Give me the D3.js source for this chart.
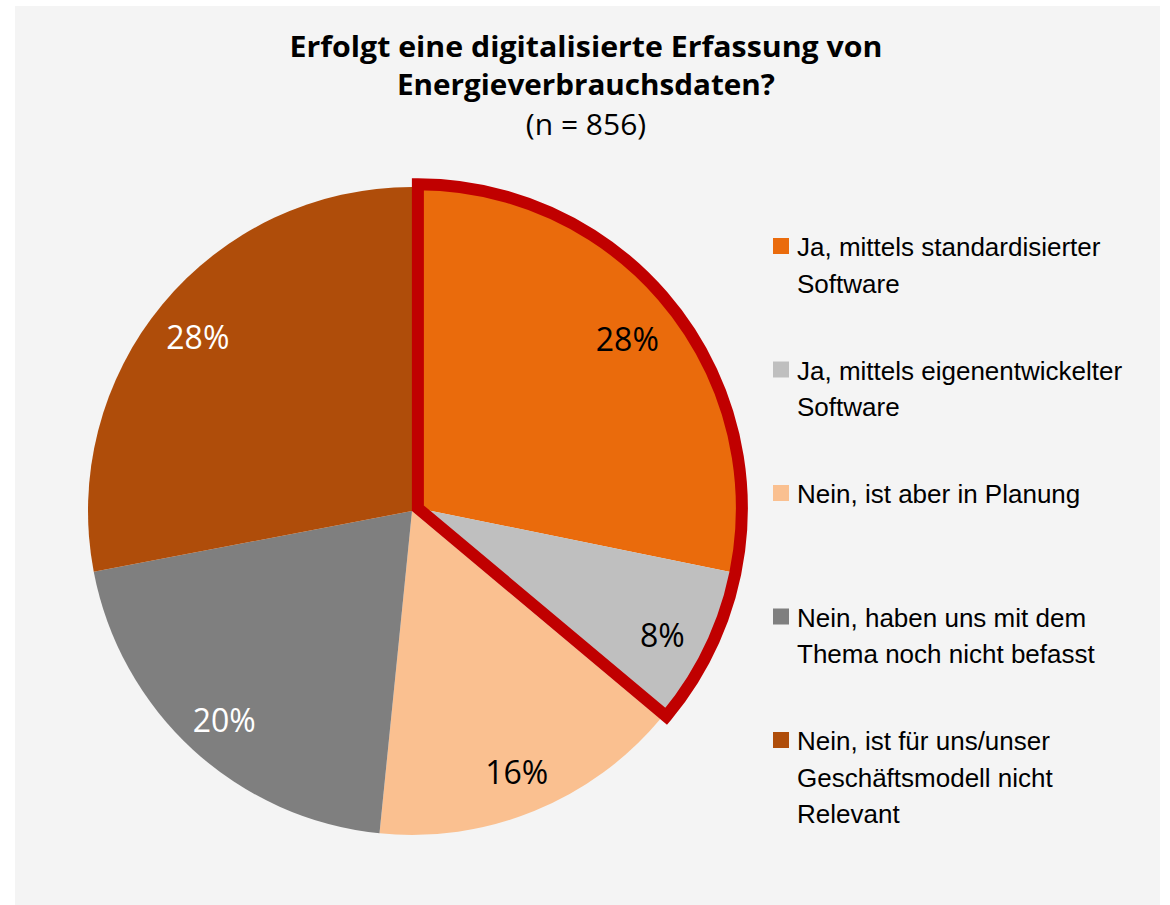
<!DOCTYPE html>
<html>
<head>
<meta charset="utf-8">
<script src="https://cdn.jsdelivr.net/npm/d3@7"></script>
<style>
  html, body { margin: 0; padding: 0; background: #ffffff; }
  svg { display: block; }
</style>
</head>
<body>
<div id="chart"></div>
<script>
// ---- data ----
const titleLines = ["Erfolgt eine digitalisierte Erfassung von", "Energieverbrauchsdaten?"];
const subtitle = "(n = 856)";
const categories = [
  "Ja, mittels standardisierter Software",
  "Ja, mittels eigenentwickelter Software",
  "Nein, ist aber in Planung",
  "Nein, haben uns mit dem Thema noch nicht befasst",
  "Nein, ist für uns/unser Geschäftsmodell nicht Relevant"
];
const legendLines = [
  ["Ja, mittels standardisierter", "Software"],
  ["Ja, mittels eigenentwickelter", "Software"],
  ["Nein, ist aber in Planung"],
  ["Nein, haben uns mit dem", "Thema noch nicht befasst"],
  ["Nein, ist für uns/unser", "Geschäftsmodell nicht", "Relevant"]
];
const values = [28.2, 7.9, 15.5, 20.4, 28.0];
const highlighted = [0, 1];

// ---- styles ----
const colors = ["#EA6B0C", "#BFBFBF", "#FAC090", "#7F7F7F", "#AF4D0A"];
const labelColors = ["#000000", "#000000", "#000000", "#ffffff", "#ffffff"];

const W = 1170, H = 905;
const svg = d3.select("#chart").append("svg").attr("width", W).attr("height", H);

svg.append("rect").attr("x", 15).attr("y", 6).attr("width", 1145).attr("height", 899).attr("fill", "#f4f4f4");

// title
const tFont = "'Open Sans', 'Noto Sans', sans-serif";
svg.append("text").attr("x", 586).attr("y", 57).attr("text-anchor", "middle")
  .attr("font-family", tFont).attr("font-weight", "bold").attr("font-size", 29).attr("fill", "#000")
  .attr("textLength", 593).attr("lengthAdjust", "spacingAndGlyphs")
  .text(titleLines[0]);
svg.append("text").attr("x", 586).attr("y", 95).attr("text-anchor", "middle")
  .attr("font-family", tFont).attr("font-weight", "bold").attr("font-size", 29).attr("fill", "#000")
  .attr("textLength", 378).attr("lengthAdjust", "spacingAndGlyphs")
  .text(titleLines[1]);
svg.append("text").attr("x", 586).attr("y", 135).attr("text-anchor", "middle")
  .attr("font-family", tFont).attr("font-size", 30).attr("fill", "#000")
  .text(subtitle);

// pie
const cx = 412, cy = 511, R = 324, explode = 6.5, labelR = 278, labelShift = 4;
const pie = d3.pie().sort(null).value(d => d);
const arcs = pie(values);
const arcGen = d3.arc().innerRadius(0).outerRadius(R);
const labelArc = d3.arc().innerRadius(labelR).outerRadius(labelR);

const hStart = arcs[highlighted[0]].startAngle;
const hEnd = arcs[highlighted[highlighted.length - 1]].endAngle;
const hMid = (hStart + hEnd) / 2;
const dx = Math.sin(hMid) * explode, dy = -Math.cos(hMid) * explode;

const g = svg.append("g").attr("transform", `translate(${cx},${cy})`);
const offsetOf = i => highlighted.includes(i) ? [dx, dy] : [0, 0];

g.selectAll("path.slice").data(arcs).join("path")
  .attr("class", "slice")
  .attr("d", arcGen)
  .attr("fill", (d, i) => colors[i])
  .attr("transform", (d, i) => `translate(${offsetOf(i)[0]},${offsetOf(i)[1]})`);

g.append("path")
  .attr("d", arcGen({startAngle: hStart, endAngle: hEnd}))
  .attr("transform", `translate(${dx},${dy})`)
  .attr("fill", "none").attr("stroke", "#C00000").attr("stroke-width", 12)
  .attr("stroke-linejoin", "miter");

g.selectAll("text.lbl").data(arcs).join("text")
  .attr("class", "lbl")
  .attr("x", d => labelArc.centroid(d)[0])
  .attr("y", d => labelArc.centroid(d)[1] + labelShift)
  .attr("dy", "0.36em")
  .attr("text-anchor", "middle")
  .attr("font-family", tFont).attr("font-size", 32)
  .attr("fill", (d, i) => labelColors[i])
  .text(d => Math.round(d.data) + "%");

// legend
const lFont = "'Liberation Sans Narrow', 'Arial Narrow', 'Liberation Sans', sans-serif";
const legY0 = 256, legStep = 123.5, lineH = 36.5;
const leg = svg.append("g");
legendLines.forEach((lines, i) => {
  const by = legY0 + i * legStep;
  leg.append("rect").attr("x", 773).attr("y", by - 18).attr("width", 16).attr("height", 16).attr("fill", colors[i]);
  const t = leg.append("text").attr("font-family", lFont).attr("font-size", 26).attr("fill", "#000")
    .attr("font-stretch", "condensed");
  lines.forEach((ln, j) => {
    t.append("tspan").attr("x", 797).attr("y", by + j * lineH).text(ln);
  });
});
</script>
</body>
</html>
